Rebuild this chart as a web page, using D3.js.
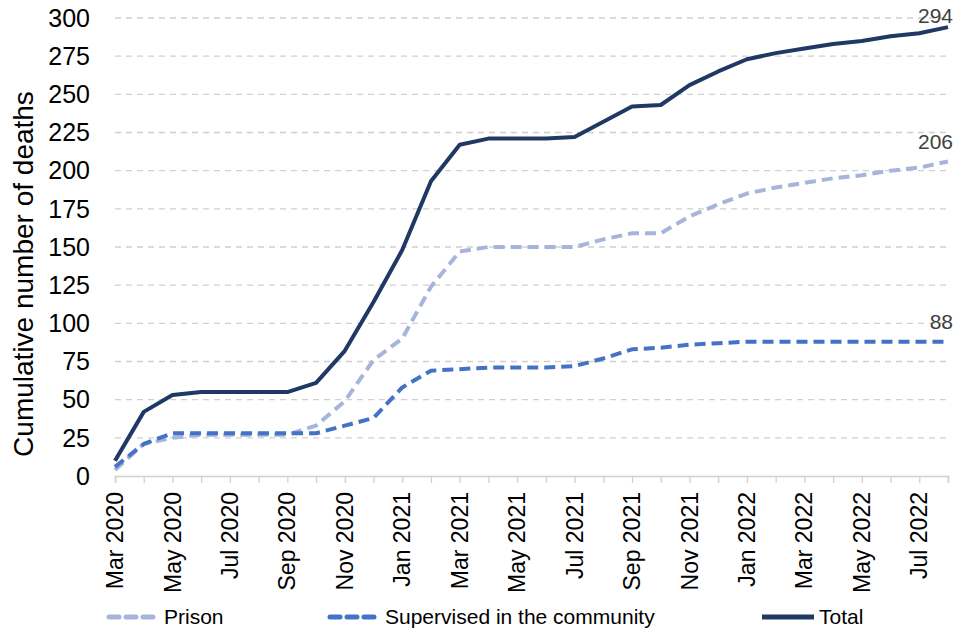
<!DOCTYPE html>
<html>
<head>
<meta charset="utf-8">
<script src="https://cdn.jsdelivr.net/npm/d3@7"></script>
<style>
  body { margin: 0; background: #fff; }
  text { font-family: "Liberation Sans", Arial, sans-serif; }
</style>
</head>
<body>
<div id="chart"></div>
<script>
// monthly data, Mar 2020 to Aug 2022
const months = ["Mar 2020","Apr 2020","May 2020","Jun 2020","Jul 2020","Aug 2020","Sep 2020","Oct 2020","Nov 2020","Dec 2020",
  "Jan 2021","Feb 2021","Mar 2021","Apr 2021","May 2021","Jun 2021","Jul 2021","Aug 2021","Sep 2021","Oct 2021","Nov 2021","Dec 2021",
  "Jan 2022","Feb 2022","Mar 2022","Apr 2022","May 2022","Jun 2022","Jul 2022","Aug 2022"];
const prison = [4,21,25,27,27,27,27,33,49,76,90,124,147,150,150,150,150,155,159,159,170,178,185,189,192,195,197,200,202,206];
const community = [6,21,28,28,28,28,28,28,33,38,58,69,70,71,71,71,72,77,83,84,86,87,88,88,88,88,88,88,88,88];
const total = [10,42,53,55,55,55,55,61,82,114,148,193,217,221,221,221,222,232,242,243,256,265,273,277,280,283,285,288,290,294];
const yTicks = d3.range(0, 301, 25);

const width = 960, height = 640;
const margin = {left: 115, right: 12, top: 18, bottom: 164};

const svg = d3.select("#chart").append("svg")
    .attr("width", width)
    .attr("height", height);

const x = d3.scalePoint()
    .domain(months)
    .range([margin.left, width - margin.right]);

const y = d3.scaleLinear()
    .domain([0, 300])
    .range([height - margin.bottom, margin.top]);

// gridlines
svg.append("g")
    .selectAll("line")
    .data(yTicks.filter(d => d > 0))
    .enter().append("line")
    .attr("x1", margin.left)
    .attr("x2", width - margin.right)
    .attr("y1", d => y(d))
    .attr("y2", d => y(d))
    .attr("stroke", "#d0d0d0")
    .attr("stroke-width", 1.3)
    .attr("stroke-dasharray", "6,5");

// y axis labels
svg.append("g")
    .selectAll("text")
    .data(yTicks)
    .enter().append("text")
    .attr("x", 90)
    .attr("y", d => y(d))
    .attr("dy", "0.35em")
    .attr("text-anchor", "end")
    .style("font-size", "25px")
    .attr("fill", "#000")
    .text(d => d);

svg.append("text")
    .attr("transform", `translate(33, 274) rotate(-90)`)
    .attr("text-anchor", "middle")
    .style("font-size", "28px")
    .attr("fill", "#000")
    .text("Cumulative number of deaths");

// x axis
const xAxis = svg.append("g")
    .attr("transform", `translate(0, ${y(0)})`)
    .call(d3.axisBottom(x).tickSize(7).tickFormat(""));
xAxis.select(".domain").attr("stroke", "#d0d0d0").attr("stroke-width", 1.5);
xAxis.selectAll(".tick line").attr("stroke", "#d0d0d0").attr("stroke-width", 1.3);

svg.append("g")
    .selectAll("text")
    .data(months.filter((d, i) => i % 2 === 0))
    .enter().append("text")
    .attr("transform", d => `translate(${x(d)}, ${y(0) + 16}) rotate(-90)`)
    .attr("text-anchor", "end")
    .attr("dy", "0.35em")
    .style("font-size", "23px")
    .attr("fill", "#000")
    .text(d => d);

// lines
const line = d3.line()
    .x((d, i) => x(months[i]))
    .y(d => y(d));

const series = [
    {name: "Prison", values: prison, color: "#a7b5dc", dash: "11,6"},
    {name: "Supervised in the community", values: community, color: "#4472c4", dash: "11,6"},
    {name: "Total", values: total, color: "#1f3864", dash: null}
];

series.forEach(s => {
    svg.append("path")
        .datum(s.values)
        .attr("fill", "none")
        .attr("stroke", s.color)
        .attr("stroke-width", 4)
        .attr("stroke-linejoin", "round")
        .attr("stroke-dasharray", s.dash)
        .attr("d", line);

    // end labels
    const last = s.values[s.values.length - 1];
    svg.append("text")
        .attr("x", width - 7)
        .attr("y", Math.max(23, y(last) - 13))
        .attr("text-anchor", "end")
        .style("font-size", "21px")
        .attr("fill", "#404040")
        .text(last);
});

// legend
const legendX = [107, 328, 760];
series.forEach((s, i) => {
    const g = svg.append("g").attr("transform", `translate(${legendX[i]}, 617)`);
    g.append("line")
        .attr("x1", 2).attr("x2", i === 2 ? 54 : 46)
        .attr("y1", 0).attr("y2", 0)
        .attr("stroke", s.color)
        .attr("stroke-width", 5)
        .attr("stroke-linecap", s.dash ? "round" : "butt")
        .attr("stroke-dasharray", s.dash ? "10,7" : null);
    g.append("text")
        .attr("x", i === 2 ? 59 : 57)
        .attr("y", 0)
        .attr("dy", "0.35em")
        .style("font-size", "21px")
        .attr("fill", "#000")
        .text(s.name);
});
</script>
</body>
</html>
